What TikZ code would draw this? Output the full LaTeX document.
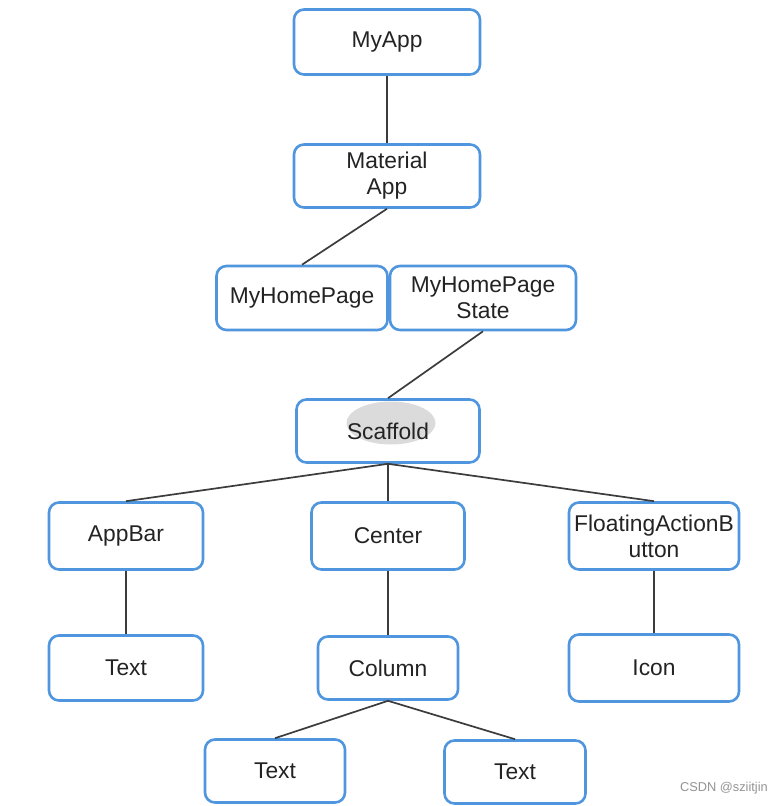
\documentclass[tikz,border=0pt]{standalone}
\usepackage{fontspec}
\setmainfont{Liberation Sans}
\usetikzlibrary{positioning}
\definecolor{boxblue}{RGB}{80,150,222}
\definecolor{linegray}{RGB}{60,60,60}
\definecolor{inkgray}{RGB}{35,35,35}

\tikzset{
    widget/.style={draw=boxblue, line width=2.6pt, rounded corners=10pt, align=center,
        font=\fontsize{22.8}{26}\selectfont, text=inkgray, inner sep=0pt},
    edge/.style={draw=linegray, line width=1.7pt}
}

\begin{document}
\begin{tikzpicture}[x=1pt,y=-1pt]
    \useasboundingbox (0,0) rectangle (781,806);

    % zoom overlay behind Scaffold
    \fill[gray!28] (391,423) ellipse (44.5 and 21.5);

    \node[widget, minimum width=186, minimum height=65] (myapp) at (387,42) {MyApp};
    \node[widget, minimum width=186, minimum height=63] (material) at (387,176) {Material\\App};
    \node[widget, minimum width=171, minimum height=64] (homepage) at (302,298) {MyHomePage};
    \node[widget, minimum width=186, minimum height=64] (homestate) at (483,298) {MyHomePage\\State};
    \node[widget, minimum width=183, minimum height=63] (scaffold) at (388,431) {Scaffold};

    \node[widget, minimum width=154, minimum height=67] (appbar) at (126,536) {AppBar};
    \node[widget, minimum width=153, minimum height=67] (center) at (388,536) {Center};
    \node[widget, minimum width=170, minimum height=67] (fab) at (654,536) {FloatingActionB\\utton};

    \node[widget, minimum width=154, minimum height=65] (bartext) at (126,668) {Text};
    \node[widget, minimum width=140, minimum height=63] (column) at (388,668) {Column};
    \node[widget, minimum width=170, minimum height=67] (icon) at (654,668) {Icon};

    \node[widget, minimum width=140, minimum height=63] (coltextl) at (275,771) {Text};
    \node[widget, minimum width=141, minimum height=63] (coltextr) at (515,772) {Text};

    % tree edges
    \draw[edge] (myapp.south) -- (material.north);
    \draw[edge] (material.south) -- (homepage.north);
    \draw[edge] (homestate.south) -- (scaffold.north);
    \foreach \kid in {appbar,center,fab}
        \draw[edge] (scaffold.south) -- (\kid.north);
    \draw[edge] (appbar.south) -- (bartext.north);
    \draw[edge] (center.south) -- (column.north);
    \draw[edge] (fab.south) -- (icon.north);
    \draw[edge] (column.south) -- (coltextl.north);
    \draw[edge] (column.south) -- (coltextr.north);

    \node[anchor=east, text=gray!85, font=\fontsize{12.8}{14}\selectfont, inner sep=0pt] (mark) at (768,788) {CSDN @sziitjin};
\end{tikzpicture}
\end{document}
